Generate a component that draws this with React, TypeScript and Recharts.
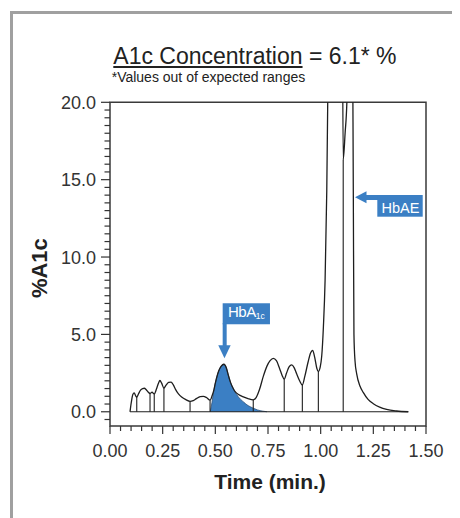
import React from "react";
import {
  ComposedChart,
  Line,
  Area,
  XAxis,
  YAxis,
  ReferenceLine,
  ReferenceArea,
  ReferenceDot,
} from "recharts";

// chromatogram trace (time in min, signal in %A1c)
const signalTimes = [
  0.095, 0.101, 0.108, 0.115, 0.121, 0.127, 0.135, 0.145, 0.155, 0.163,
  0.172, 0.181, 0.19, 0.1995, 0.21, 0.22, 0.23, 0.237, 0.245, 0.256,
  0.266, 0.278, 0.29, 0.3, 0.311, 0.325, 0.34, 0.36, 0.38, 0.395,
  0.41, 0.428, 0.443, 0.458, 0.475, 0.485, 0.492, 0.5, 0.515, 0.528,
  0.541, 0.552, 0.562, 0.572, 0.585, 0.595, 0.61, 0.63, 0.655, 0.68,
  0.695, 0.71, 0.728, 0.745, 0.76, 0.775, 0.79, 0.805, 0.817, 0.827,
  0.838, 0.85, 0.8625, 0.874, 0.886, 0.9, 0.913, 0.925, 0.94, 0.952,
  0.962, 0.972, 0.982, 0.989, 0.998, 1.005, 1.013, 1.021, 1.029, 1.035,
  1.045, 1.07, 1.095, 1.102, 1.107, 1.116, 1.125, 1.135, 1.143, 1.15,
  1.155, 1.158, 1.163, 1.171, 1.187, 1.202, 1.225, 1.25, 1.28, 1.313,
  1.36, 1.416,
];
const signalValues = [
  0, 0.6, 1.1, 1.22, 1.05, 0.95, 1.15, 1.4, 1.5, 1.52,
  1.42, 1.28, 1.18, 1.26, 1.15, 1.45, 1.85, 2.02, 1.85, 1.53,
  1.72, 1.9, 1.92, 1.75, 1.45, 1.15, 0.95, 0.78, 0.67, 0.72,
  0.85, 0.98, 1.0, 0.92, 0.75, 1.05, 1.35, 1.85, 2.6, 2.95,
  3.07, 2.85, 2.35, 1.9, 1.5, 1.28, 1.12, 0.98, 0.85, 0.77,
  0.95, 1.45, 2.3, 2.95, 3.3, 3.45, 3.3, 2.8, 2.35, 2.1,
  2.5, 2.9, 3.03, 2.85, 2.45, 2.0, 1.73, 2.3, 3.2, 3.8,
  3.96, 3.5, 2.8, 2.6, 2.9, 3.6, 5.5, 8.5, 14.3, 22,
  32, 40, 38, 30, 16.3, 18.0, 20.3, 30, 33, 28,
  14, 5.0, 3.3, 2.45, 1.65, 1.25, 0.8, 0.52, 0.3, 0.15,
  0.05, 0,
];

// integrated HbA1c peak (blue)
const hba1cTimes = [
  0.476, 0.484, 0.492, 0.5, 0.515, 0.528, 0.541, 0.552, 0.562, 0.572,
  0.585, 0.595, 0.607, 0.62, 0.635, 0.65, 0.665, 0.68, 0.7, 0.725, 0.745,
];
const hba1cValues = [
  0, 0.6, 1.3, 1.85, 2.6, 2.95, 3.07, 2.85, 2.35, 1.9,
  1.5, 1.25, 1.0, 0.8, 0.62, 0.45, 0.33, 0.23, 0.12, 0.04, 0,
];

// peak separation lines
const dropTimes = [0.127, 0.19, 0.21, 0.256, 0.38, 0.475, 0.68, 0.827, 0.913, 0.989, 1.107];

const xTickLabels = ["0.00", "0.25", "0.50", "0.75", "1.00", "1.25", "1.50"];
const yTickLabels = ["0.0", "5.0", "10.0", "15.0", "20.0"];

const hba1cMark = { name: "HbA", sub: "1c", t: 0.541, v: 3.07 };
const hbaeMark = { name: "HbAE", t: 1.163, v: 13.86 };

const X_MIN = 0;
const X_MAX = 1.5;
const Y_MIN = -0.92;
const Y_MAX = 20;
const BLUE = "#3b7fc4";
const INK = "#1e1e1e";
const AXIS = "#333";
const FONT = "'Liberation Sans', Arial, Helvetica, sans-serif";

const rows = (() => {
  const byTime = new Map<number, { t: number; signal?: number; hba1c?: number }>();
  signalTimes.forEach((t, i) => {
    byTime.set(t, { ...(byTime.get(t) ?? { t }), signal: signalValues[i] });
  });
  hba1cTimes.forEach((t, i) => {
    byTime.set(t, { ...(byTime.get(t) ?? { t }), hba1c: hba1cValues[i] });
  });
  return [...byTime.values()].sort((a, b) => a.t - b.t);
})();

const xTicks: number[] = [];
for (let k = 0; k <= 30; k++) xTicks.push(k / 20);
const yTicks: number[] = [];
for (let k = -1; k <= 40; k++) yTicks.push(k / 2);

const XTick = (props: any) => {
  const { x, y, payload } = props;
  const k = Math.round(payload.value * 20);
  const major = k % 5 === 0;
  return (
    <g>
      <line x1={x} x2={x} y1={y} y2={y + (major ? 8 : 5)} stroke={AXIS} strokeWidth={1.2} />
      {major && (
        <text x={x} y={y + 30.5} textAnchor="middle" fontSize={18} fill={AXIS} fontFamily={FONT}>
          {xTickLabels[k / 5]}
        </text>
      )}
    </g>
  );
};

const YTick = (props: any) => {
  const { x, y, payload } = props;
  const k = Math.round(payload.value * 2);
  const major = k >= 0 && k % 10 === 0;
  return (
    <g>
      <line x1={x} x2={x - (major ? 9 : 5.5)} y1={y} y2={y} stroke={AXIS} strokeWidth={1.2} />
      {major && (
        <text x={x - 14} y={y + 6.5} textAnchor="end" fontSize={18} fill={AXIS} fontFamily={FONT}>
          {yTickLabels[k / 10]}
        </text>
      )}
    </g>
  );
};

// arrow pointing down at the HbA1c peak, label box above it
const Hba1cFlag = (props: any) => {
  const { cx, cy } = props;
  const tip = cy - 6;
  return (
    <g>
      <rect x={cx - 1.3} y={cy - 61} width={47.3} height={21} fill={BLUE} />
      <rect x={cx - 1.3} y={cy - 41} width={4} height={23} fill={BLUE} />
      <polygon points={`${cx - 5.7},${cy - 19} ${cx + 6.7},${cy - 19} ${cx + 0.5},${tip}`} fill={BLUE} />
      <text x={cx + 4} y={cy - 47.3} fill="#fff" fontSize={15} fontFamily={FONT} letterSpacing={-0.5}>
        {hba1cMark.name}
        <tspan fontSize={8.5} dy={1.6} letterSpacing={0}>{hba1cMark.sub}</tspan>
      </text>
    </g>
  );
};

// arrow pointing left at the HbAE peak, label box to the right
const HbaeFlag = (props: any) => {
  const { cx, cy } = props;
  return (
    <g>
      <polygon points={`${cx},${cy} ${cx + 11.5},${cy - 6} ${cx + 11.5},${cy + 6}`} fill={BLUE} />
      <rect x={cx + 11} y={cy - 2.3} width={12} height={5} fill={BLUE} />
      <rect x={cx + 22.3} y={cy - 2.3} width={45.4} height={21.7} fill={BLUE} />
      <text x={cx + 26.5} y={cy + 15.4} fill="#fff" fontSize={14.5} fontFamily={FONT}>
        {hbaeMark.name}
      </text>
    </g>
  );
};

const XLabel = (props: any) => {
  const { x, y, width } = props.viewBox;
  return (
    <text x={x + width / 2 + 2} y={y + 63} textAnchor="middle" fontSize={21} fontWeight="bold" fill="#222" fontFamily={FONT}>
      Time (min.)
    </text>
  );
};

const YLabel = (props: any) => {
  const { x, y, height } = props.viewBox;
  const cx = x + 12;
  const cy = y + height / 2 + 4;
  return (
    <text
      x={cx}
      y={cy}
      transform={`rotate(-90 ${cx} ${cy})`}
      textAnchor="middle"
      dominantBaseline="central"
      fontSize={22}
      fontWeight="bold"
      fill="#222"
      fontFamily={FONT}
    >
      %A1c
    </text>
  );
};

export default function App() {
  return (
    <div style={{ position: "relative", width: 452, height: 510, overflow: "hidden", fontFamily: FONT }}>
      <div
        style={{
          position: "absolute",
          left: 1.5,
          top: 3,
          width: 600,
          height: 600,
          border: "3px solid #a0a0a0",
        }}
      />
      <div
        style={{
          position: "absolute",
          left: 105.3,
          top: 36.5,
          fontSize: 23,
          lineHeight: "23px",
          color: "#222",
          whiteSpace: "nowrap",
        }}
      >
        <span style={{ textDecoration: "underline" }}>A1c Concentration</span> = 6.1* %
      </div>
      <div
        style={{
          position: "absolute",
          left: 103.7,
          top: 62,
          fontSize: 14,
          lineHeight: "14px",
          color: "#222",
          whiteSpace: "nowrap",
        }}
      >
        *Values out of expected ranges
      </div>
      <div style={{ position: "absolute", left: 0, top: 0 }}>
        <ComposedChart
          width={452}
          height={510}
          data={rows}
          margin={{ top: 94.3, right: 34, bottom: 52, left: 20 }}
        >
          <XAxis
            dataKey="t"
            type="number"
            domain={[X_MIN, X_MAX]}
            allowDataOverflow
            ticks={xTicks}
            interval={0}
            tick={<XTick />}
            tickLine={false}
            axisLine={false}
            tickSize={0}
            tickMargin={0}
            height={40}
            label={<XLabel />}
          />
          <YAxis
            type="number"
            domain={[Y_MIN, Y_MAX]}
            allowDataOverflow
            ticks={yTicks}
            interval={0}
            tick={<YTick />}
            tickLine={false}
            axisLine={false}
            tickSize={0}
            tickMargin={0}
            width={82}
            label={<YLabel />}
          />
          <Area
            dataKey="hba1c"
            type="monotone"
            fill={BLUE}
            fillOpacity={1}
            stroke="#2b4f78"
            strokeWidth={0.8}
            connectNulls
            dot={false}
            activeDot={false}
            isAnimationActive={false}
          />
          <ReferenceLine
            segment={[
              { x: signalTimes[0], y: 0 },
              { x: signalTimes[signalTimes.length - 1], y: 0 },
            ]}
            stroke={INK}
            strokeWidth={1.2}
            ifOverflow="visible"
          />
          {dropTimes.map((t) => (
            <ReferenceLine
              key={t}
              segment={[
                { x: t, y: 0 },
                { x: t, y: Math.min(signalValues[signalTimes.indexOf(t)], Y_MAX) },
              ]}
              stroke={INK}
              strokeWidth={1.1}
              ifOverflow="visible"
            />
          ))}
          <Line
            dataKey="signal"
            type="monotone"
            stroke={INK}
            strokeWidth={1.3}
            dot={false}
            activeDot={false}
            connectNulls
            isAnimationActive={false}
          />
          <ReferenceArea
            x1={X_MIN}
            x2={X_MAX}
            y1={Y_MIN}
            y2={Y_MAX}
            fill="none"
            fillOpacity={0}
            stroke="#3a3a3a"
            strokeWidth={1.5}
            ifOverflow="visible"
          />
          <ReferenceDot x={hba1cMark.t} y={hba1cMark.v} r={0} ifOverflow="visible" shape={<Hba1cFlag />} />
          <ReferenceDot x={hbaeMark.t} y={hbaeMark.v} r={0} ifOverflow="visible" shape={<HbaeFlag />} />
        </ComposedChart>
      </div>
    </div>
  );
}
